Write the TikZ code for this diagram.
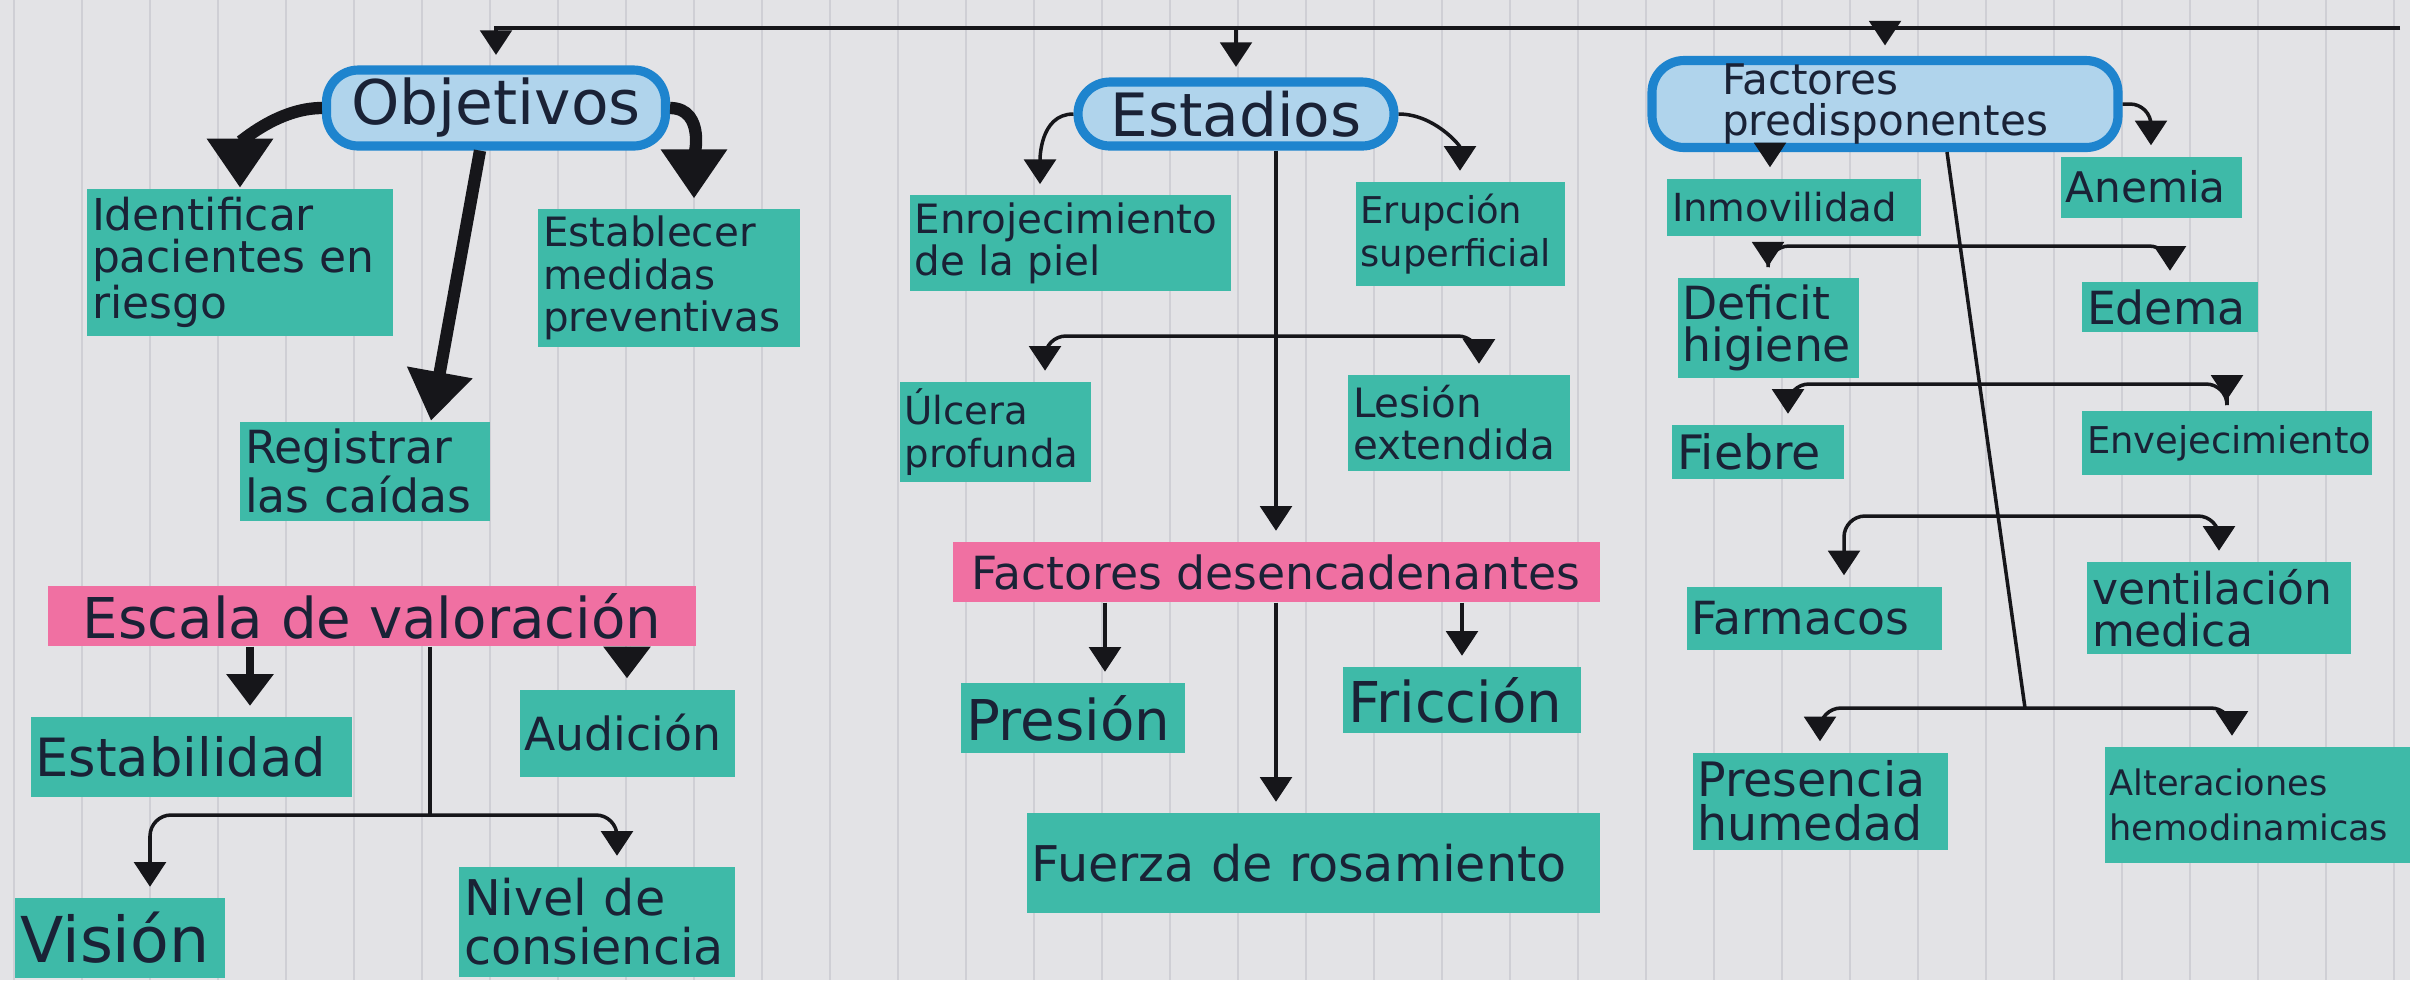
\documentclass[tikz,border=0pt]{standalone}
\usepackage{xcolor}
\usepackage{fontspec}
\setmainfont{DejaVu Sans}
\usetikzlibrary{arrows.meta}

\definecolor{paper}{RGB}{227,227,230}
\definecolor{ruling}{RGB}{207,207,213}
\definecolor{marker}{RGB}{62,186,168}
\definecolor{pinkmark}{RGB}{240,112,162}
\definecolor{pillline}{RGB}{30,132,206}
\definecolor{pillfill}{RGB}{176,212,236}
\definecolor{ink}{RGB}{26,34,54}
\definecolor{pen}{RGB}{22,22,26}

\newcommand{\hw}[2]{\fontsize{#1}{#2}\selectfont}
\hyphenpenalty=10000

\tikzset{
    pill/.style={draw=pillline, line width=2.6pt, fill=pillfill, rounded corners=0.32cm, text=ink, align=left, inner sep=2pt},
    hl/.style={fill=marker, text=ink, align=left, inner xsep=0.05cm, inner ysep=2pt},
    bar/.style={fill=pinkmark, text=ink, inner sep=2pt},
    link/.style={draw=pen, line width=1pt, -{Triangle[width=9pt,length=7pt]}, shorten >=3pt},
    elbow/.style={link, rounded corners=6pt},
    mid/.style={draw=pen, line width=2pt, -{Triangle[width=13pt,length=9pt]}, shorten >=3pt},
    fat/.style={draw=pen, line width=3.5pt, -{Triangle[width=18pt,length=14pt]}},
}

\begin{document}
\begin{tikzpicture}
                \useasboundingbox (0,0) rectangle (24.1,-9.8);
                \fill[paper] (0,0) rectangle (24.1,-9.8);
                \foreach \x in {0.14,0.82,...,24.1}
                    \draw[ruling, line width=0.8pt] (\x,0) -- (\x,-9.8);

                \node[pill, minimum width=3.39cm, minimum height=0.76cm, font=\hw{17.5}{17.5}] (obj) at (4.96,-1.08) {Objetivos};
                \node[pill, minimum width=3.16cm, minimum height=0.64cm, font=\hw{17}{17}] (est) at (12.36,-1.14) {Estadios};
                \node[pill, inner sep=1pt, minimum width=4.66cm, minimum height=0.69cm, font=\hw{12}{11.5}] (fpre) at (18.85,-1.04) {Factores\\predisponentes};

                \node[hl, text width=2.96cm, minimum height=1.47cm, font=\hw{12.5}{12}] (ident) at (2.40,-2.62) {Identificar\\pacientes en\\riesgo};
                \node[hl, text width=2.52cm, minimum height=1.35cm, font=\hw{11.5}{12}] (estab) at (6.69,-2.78) {Establecer\\medidas\\preventivas};
                \node[hl, text width=2.40cm, minimum height=0.93cm, font=\hw{13}{13}] (regis) at (3.65,-4.71) {Registrar\\las caídas};

                \node[bar, minimum width=6.48cm, minimum height=0.58cm, font=\hw{16}{16}] (escala) at (3.72,-6.16) {Escala de valoración};
                \node[hl, text width=3.11cm, minimum height=0.80cm, font=\hw{15}{15}] (estabi) at (1.91,-7.57) {Estabilidad};
                \node[hl, text width=2.05cm, minimum height=0.87cm, font=\hw{13}{13}] (audic) at (6.27,-7.33) {Audición};
                \node[hl, text width=1.99cm, minimum height=0.80cm, font=\hw{18}{18}] (vision) at (1.20,-9.38) {Visión};
                \node[hl, text width=2.66cm, minimum height=1.10cm, font=\hw{14}{14}] (nivel) at (5.97,-9.22) {Nivel de\\consiencia};

                \node[hl, text width=3.11cm, minimum height=0.86cm, font=\hw{11.5}{12}] (enroj) at (10.70,-2.43) {Enrojecimiento\\de la piel};
                \node[hl, text width=1.99cm, minimum height=1.04cm, font=\hw{10.5}{12}] (erup) at (14.60,-2.34) {Erupción\\superficial};
                \node[hl, text width=1.81cm, minimum height=0.93cm, font=\hw{11}{12}] (ulc) at (9.95,-4.32) {Úlcera\\profunda};
                \node[hl, text width=2.12cm, minimum height=0.96cm, font=\hw{11.5}{12}] (lesion) at (14.59,-4.23) {Lesión\\extendida};

                \node[bar, minimum width=6.47cm, minimum height=0.60cm, font=\hw{13}{13}] (desen) at (12.76,-5.72) {Factores desencadenantes};
                \node[hl, text width=2.14cm, minimum height=0.70cm, font=\hw{16}{16}] (presion) at (10.73,-7.18) {Presión};
                \node[hl, text width=2.28cm, minimum height=0.66cm, font=\hw{16}{16}] (friccion) at (14.62,-7.00) {Fricción};
                \node[hl, text width=5.63cm, minimum height=1.00cm, font=\hw{14}{14}] (fuerza) at (13.13,-8.63) {Fuerza de rosamiento};

                \node[hl, text width=2.44cm, minimum height=0.57cm, font=\hw{11}{11}] (inmov) at (17.94,-2.07) {Inmovilidad};
                \node[hl, text width=1.71cm, minimum height=0.61cm, font=\hw{12}{12}] (anemia) at (21.51,-1.87) {Anemia};
                \node[hl, text width=1.71cm, minimum height=0.85cm, font=\hw{13}{12}] (deficit) at (17.68,-3.28) {Deficit\\higiene};
                \node[hl, text width=1.66cm, minimum height=0.50cm, font=\hw{13}{13}] (edema) at (21.70,-3.07) {Edema};
                \node[hl, text width=1.62cm, minimum height=0.54cm, font=\hw{13.5}{13.5}] (fiebre) at (17.58,-4.52) {Fiebre};
                \node[hl, text width=2.80cm, minimum height=0.64cm, font=\hw{10.5}{10.5}] (envej) at (22.27,-4.43) {Envejecimiento};
                \node[hl, text width=2.45cm, minimum height=0.63cm, font=\hw{13}{13}] (farm) at (18.14,-6.18) {Farmacos};
                \node[hl, text width=2.54cm, minimum height=0.90cm, font=\hw{12.5}{12}] (ventil) at (22.19,-6.08) {ventilación\\medica};
                \node[hl, text width=2.45cm, minimum height=0.97cm, font=\hw{13.5}{12.5}] (presen) at (18.20,-8.01) {Presencia\\humedad};
                \node[hl, text width=2.95cm, minimum height=1.16cm, font=\hw{10}{13}] (alter) at (22.57,-8.05) {Alteraciones\\hemodinamicas};

                \coordinate (tl) at (obj.north |- 0,-0.28);
                \coordinate (tend) at (24.0,-0.28);
                \draw[link] (tend) -- (tl) -- (obj.north);
                \draw[link] (est.north |- tl) -- (est.north);
                \draw[link] (fpre.north |- tl) -- (fpre.north);

                \draw[fat] (obj.west) to[out=180,in=90] (ident.north);
                \draw[fat] (obj.east) to[out=0,in=90] ([xshift=2.5mm,yshift=1mm]estab.north);
                \draw[fat] ([xshift=-1.6mm]obj.south) -- ([xshift=6.6mm]regis.north);

                \draw[mid] (escala.south -| 2.5,0) -- (estabi.north -| 2.5,0);
                \draw[mid] (escala.south -| audic.north) -- (audic.north);
                \coordinate (ej) at (4.30,-8.15);
                \draw[draw=pen, line width=1.2pt] (escala.south -| ej) -- (ej);
                \draw[elbow] (ej) -| ([xshift=3mm]vision.north);
                \draw[elbow] (ej) -| ([xshift=2mm]nivel.north);

                \draw[link] (est.west) to[out=180,in=90] ([xshift=-3mm]enroj.north);
                \draw[link] (est.east) to[out=0,in=90] (erup.north);
                \draw[link] (est.south -| desen.north) -- (desen.north);
                \coordinate (eb) at (desen.north |- 0,-3.36);
                \draw[elbow] (eb) -| ([xshift=5mm]ulc.north);
                \draw[elbow] (eb) -| ([xshift=2mm]lesion.north);

                \draw[link] (desen.south -| 11.05,0) -- (presion.north -| 11.05,0);
                \draw[link] (desen.south -| friccion.north) -- (friccion.north);
                \draw[link] (desen.south) -- (desen.south |- fuerza.north);

                \draw[link] (fpre.south -| 17.7,0) -- (inmov.north -| 17.7,0);
                \draw[elbow] (fpre.east) -| (anemia.north);
                \coordinate (sp0) at (19.47,0 |- fpre.south);
                \coordinate (b1) at (19.62,-2.46);
                \coordinate (b2) at (19.81,-3.84);
                \coordinate (b3) at (19.99,-5.16);
                \coordinate (b4) at (20.25,-7.08);
                \draw[draw=pen, line width=1pt] (sp0) -- (b4);
                \draw[elbow] (b1) -| (deficit.north);
                \draw[elbow] (b1) -| (edema.north);
                \draw[elbow] (b2) -| ([xshift=3mm]fiebre.north);
                \draw[elbow] (b2) -| (envej.north);
                \draw[elbow] (b3) -| ([xshift=3mm]farm.north);
                \draw[elbow] (b3) -| (ventil.north);
                \draw[elbow] (b4) -| (presen.north);
                \draw[elbow] (b4) -| ([xshift=-2.5mm]alter.north);
\end{tikzpicture}
\end{document}
